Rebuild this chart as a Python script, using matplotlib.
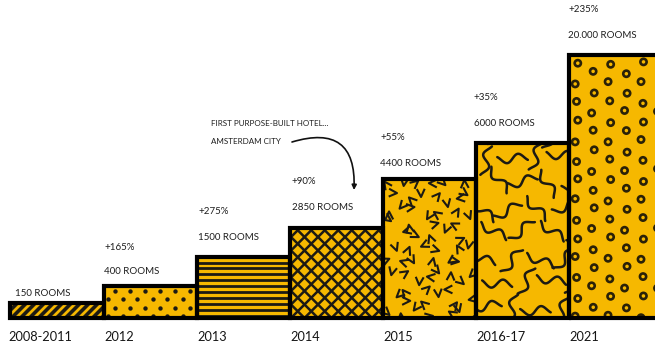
import numpy as np
import matplotlib
matplotlib.use("Agg")
import matplotlib.pyplot as plt
from matplotlib.collections import LineCollection

# ---------------- data ----------------
periods = ["2008-2011", "2012", "2013", "2014", "2015", "2016-17", "2021"]
rooms = ["150 ROOMS", "400 ROOMS", "1500 ROOMS", "2850 ROOMS", "4400 ROOMS", "6000 ROOMS", "20.000 ROOMS"]
growth = [None, "+165%", "+275%", "+90%", "+55%", "+35%", "+235%"]
step_heights = [15, 32, 61, 90, 139, 175, 263]  # visual step heights as drawn
note_lines = ["FIRST PURPOSE-BUILT HOTEL...", "AMSTERDAM CITY"]

# ---------------- style ----------------
YELLOW = "#F6B800"
INK = "#1c1a14"
FONT = ["Lato", "DejaVu Sans"]
plt.rcParams["font.family"] = FONT

W, H = 655, 349
fig = plt.figure(figsize=(W / 100, H / 100), dpi=100)
ax = fig.add_axes([0, 0, 1, 1])
BAR_PX = 93.0
x0 = -10.5 / BAR_PX
x1 = x0 + W / BAR_PX
ax.set_xlim(x0, x1)
ax.set_ylim(-31, 318)
ax.axis("off")
sx = (x1 - x0) / W  # data units per pixel in x


def py(p):  # pixel row (from top) -> data y
    return 318 - p


def px(p):  # pixel column -> data x
    return x0 + p * sx


idx = np.arange(len(periods))
bars = ax.bar(idx, step_heights, width=1, align="edge", color=YELLOW,
              edgecolor="none", zorder=1)


def to_data(bar, pts):
    pts = np.asarray(pts, dtype=float)
    out = np.empty_like(pts)
    out[..., 0] = bar.get_x() + pts[..., 0] * sx
    out[..., 1] = bar.get_y() + pts[..., 1]
    return out


def add_segments(bar, segs, lw, color=INK, capstyle="butt"):
    lc = LineCollection([to_data(bar, s) for s in segs], colors=color,
                        linewidths=lw, zorder=2, capstyle=capstyle)
    ax.add_collection(lc)
    lc.set_clip_path(bar)


def bar_px(bar):
    return bar.get_width() / sx, bar.get_height()


# 0: diagonal stripes
b = bars[0]
w, h = bar_px(b)
segs = [[(c, 0), (c + h + 10, h + 10)] for c in np.arange(-h - 20, w + 20, 9.0)]
add_segments(b, segs, 2.6)

# 1: dots
b = bars[1]
w, h = bar_px(b)
xs, ys = [], []
for r, yy in enumerate(np.arange(h - 5, -5, -8.3)):
    off = 0 if r % 2 == 0 else 7.5
    for xx in np.arange(-7.5 + off + 4, w + 8, 15):
        xs.append(xx); ys.append(yy)
pts = to_data(b, np.column_stack([xs, ys]))
sc = ax.scatter(pts[:, 0], pts[:, 1], s=10, color=INK, zorder=2, linewidths=0)
sc.set_clip_path(b)

# 2: horizontal lines
b = bars[2]
w, h = bar_px(b)
segs = [[(-5, yy), (w + 5, yy)] for yy in np.arange(h - 5.5, 0, -5.9)]
add_segments(b, segs, 2.0)

# 3: crosshatch
b = bars[3]
w, h = bar_px(b)
segs = []
for c in np.arange(-h - 30, w + h + 30, 13.5):
    segs.append([(c, 0), (c + h + 10, h + 10)])
    segs.append([(c, 0), (c - h - 10, h + 10)])
add_segments(b, segs, 1.8)

# 4: scattered chevrons
b = bars[4]
w, h = bar_px(b)
segs = []
k = 0
for r, yy in enumerate(np.arange(5, h + 8, 13.0)):
    for c, xx in enumerate(np.arange(4 + (r % 2) * 7.5, w + 8, 15.0)):
        k += 1
        th = np.deg2rad((k * 137.5 + r * 23) % 360)
        jx = 3.0 * np.sin(k * 1.7)
        jy = 3.0 * np.cos(k * 2.3)
        vx, vy = xx + jx, yy + jy
        arm = 9.0
        a1 = th + np.deg2rad(26)
        a2 = th - np.deg2rad(26)
        segs.append([(vx + arm * np.cos(a1), vy + arm * np.sin(a1)), (vx, vy),
                     (vx + arm * np.cos(a2), vy + arm * np.sin(a2))])
add_segments(b, segs, 1.5)

# 5: squiggles
b = bars[5]
w, h = bar_px(b)
segs = []
t = np.linspace(-1, 1, 40)
k = 0
for r, yy in enumerate(np.arange(10, h + 15, 25)):
    for c, xx in enumerate(np.arange(8 + (r % 2) * 13, w + 15, 27)):
        k += 1
        th = np.deg2rad(-55 + (k * 67) % 140)
        L, A = 30.0, 4.0
        u = np.array([np.cos(th), np.sin(th)])
        v = np.array([-np.sin(th), np.cos(th)])
        s = np.outer(t * L / 2, u) + np.outer(A * np.sin(1.3 * np.pi * t), v)
        s[:, 0] += xx + 3 * np.sin(k * 1.3)
        s[:, 1] += yy + 3 * np.cos(k * 0.9)
        segs.append(s)
add_segments(b, segs, 1.8, capstyle="round")

# 6: rings
b = bars[6]
w, h = bar_px(b)
xs, ys = [], []
k = 0
for c, xx in enumerate(np.arange(8, w + 10, 16.5)):
    off = 0 if c % 2 == 0 else 9.75
    for yy in np.arange(h - 8 - off, 0, -19.5):
        k += 1
        xs.append(xx + 1.5 * np.sin(k * 2.1))
        ys.append(yy + 1.5 * np.cos(k * 1.7))
pts = to_data(b, np.column_stack([xs, ys]))
sc = ax.scatter(pts[:, 0], pts[:, 1], s=20, facecolors="none",
                edgecolors="#2a2108", linewidths=1.9, zorder=2)
sc.set_clip_path(b)

# outlines
ax.bar(idx, step_heights, width=1, align="edge", fill=False,
       edgecolor="black", linewidth=3, zorder=4, joinstyle="miter")

# labels
room_off = [10, 15, 20, 21, 16, 19, 19]
pct_off = [0, 39, 45, 46, 42, 45, 45]
lab_dx = [5, 1, 2, 2, -2, -2, 0]
for i, bar in enumerate(bars):
    top = bar.get_height()
    lx = bar.get_x() + lab_dx[i] * sx
    ax.text(lx, top + room_off[i], rooms[i], fontsize=7, color="#1e1e1e",
            ha="left", va="center")
    if growth[i]:
        ax.text(lx, top + pct_off[i], growth[i], fontsize=7, color="#1e1e1e",
                ha="left", va="center")
    ax.text(bar.get_x() + (-2 if i == 0 else 1) * sx, -19, periods[i],
            fontsize=9.2, color="#151515", ha="left", va="center")

# annotation
ax.text(px(211), py(124), note_lines[0], fontsize=5.8, color="#1e1e1e",
        ha="left", va="center")
ax.text(px(211), py(142), note_lines[1], fontsize=5.8, color="#1e1e1e",
        ha="left", va="center")
ax.annotate("", xy=(px(354), py(190)), xytext=(px(292), py(142)),
            arrowprops=dict(arrowstyle="-|>", connectionstyle="arc3,rad=-0.7",
                            lw=1.2, color="#111111", mutation_scale=7,
                            shrinkA=0, shrinkB=0))

fig.savefig("out.png", dpi=100, facecolor="white")
